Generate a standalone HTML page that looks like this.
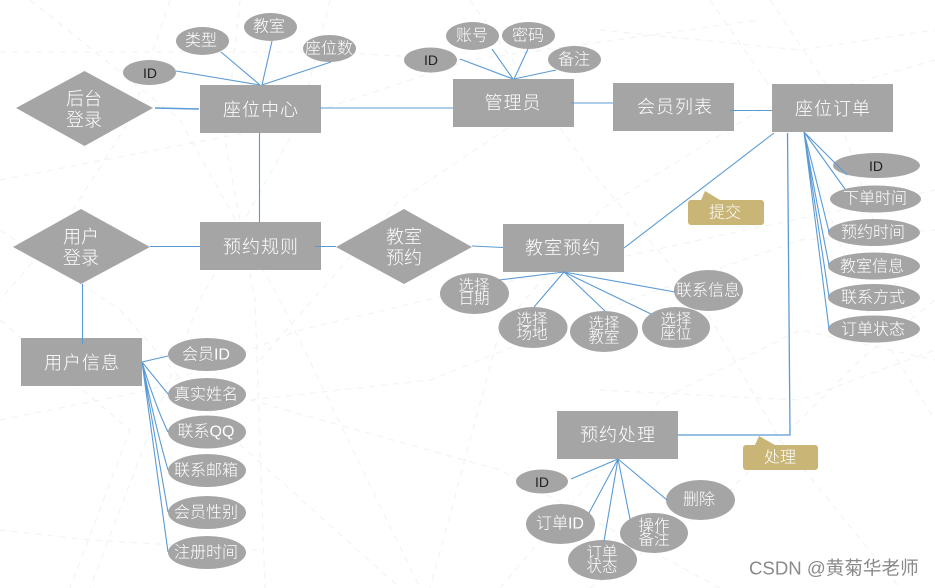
<!DOCTYPE html>
<html lang="zh">
<head>
<meta charset="utf-8">
<title>系统功能图</title>
<style>
html,body{margin:0;padding:0;background:#fff;width:935px;height:588px;overflow:hidden}
svg{display:block}
text{font-family:"Liberation Sans","Noto Sans CJK SC",sans-serif;fill:#fff;text-anchor:middle;dominant-baseline:central;font-weight:300}
.r{font-size:18px;letter-spacing:1px}
.d{font-size:18px}
.e{font-size:16px}
.t{font-size:15.5px}
.i{font-size:14px;fill:#222}
.l{stroke:#5b9bd5;stroke-width:1.1;fill:none}
.b{stroke:#f3f3f3;stroke-width:1.2;stroke-dasharray:6 6;fill:none}
.s{fill:#a5a5a5}
.g{fill:#c9b677}
</style>
</head>
<body>
<svg width="935" height="588" viewBox="0 0 935 588" xmlns="http://www.w3.org/2000/svg">
<rect width="935" height="588" fill="#fff"/>
<!-- faint dashed background -->
<g class="b">
<path d="M0 52H330L470 60"/>
<path d="M30 0L180 120L280 300L420 588"/>
<path d="M0 180L260 130L470 60L760 20"/>
<path d="M0 230L120 310L235 440L400 588"/>
<path d="M170 0L130 120L60 230L0 300"/>
<path d="M0 420L150 390L300 330L470 290L700 240L935 190"/>
<path d="M240 0L225 140L255 300L265 588"/>
<path d="M330 0L300 120L200 300L90 588"/>
<path d="M0 530L90 540L260 550"/>
<path d="M250 400L500 470L720 588"/>
<path d="M250 400L430 380L630 300L800 240L935 230"/>
<path d="M470 0L590 170L700 300L780 440L900 588"/>
<path d="M710 0L800 130L860 300L935 420"/>
<path d="M770 0L830 90L900 300"/>
<path d="M600 30L800 50L935 30"/>
<path d="M935 60L760 110L600 210L500 330L430 588"/>
<path d="M600 390L800 400L935 350"/>
<path d="M500 588L660 400L800 330L935 360"/>
<path d="M260 360L400 200L520 120"/>
<path d="M590 588L720 500L860 360L935 300"/>
<path d="M0 320L130 430L70 588"/>
</g>

<!-- rectangles -->
<g class="s">
<rect x="200" y="85" width="121" height="48"/>
<rect x="453" y="79" width="121" height="48"/>
<rect x="613" y="83" width="121" height="48"/>
<rect x="772" y="84" width="121" height="48"/>
<rect x="200" y="222" width="121" height="48"/>
<rect x="503" y="224" width="121" height="48"/>
<rect x="21" y="338" width="121" height="48"/>
<rect x="557" y="411" width="121" height="48"/>
<!-- diamonds -->
<polygon points="16,108 84.5,71 153,108 84.5,146"/>
<polygon points="13,247 81,209 150,247 81,284"/>
<polygon points="336,247 404,209 472,247 404,284"/>
<!-- ellipses -->
<ellipse cx="149.5" cy="72.5" rx="26.5" ry="12.5"/>
<ellipse cx="202.5" cy="41" rx="26.5" ry="14"/>
<ellipse cx="270.5" cy="27" rx="26.5" ry="14"/>
<ellipse cx="329.5" cy="48.5" rx="26.5" ry="13.5"/>
<ellipse cx="430.5" cy="60" rx="26.5" ry="12.5"/>
<ellipse cx="472.5" cy="36" rx="26.5" ry="14"/>
<ellipse cx="528.5" cy="35.5" rx="26.5" ry="13.5"/>
<ellipse cx="574.5" cy="59.5" rx="26.5" ry="13.5"/>
<ellipse cx="876.5" cy="165.5" rx="43.5" ry="12.5"/>
<ellipse cx="875.5" cy="199" rx="45.5" ry="13.5"/>
<ellipse cx="874" cy="232.5" rx="46" ry="13.5"/>
<ellipse cx="874" cy="266" rx="46" ry="13.5"/>
<ellipse cx="874" cy="297.5" rx="46" ry="13.5"/>
<ellipse cx="874" cy="329" rx="46" ry="13.5"/>
<ellipse cx="474.5" cy="293.5" rx="34.5" ry="20.5"/>
<ellipse cx="533" cy="327.5" rx="34.5" ry="20.5"/>
<ellipse cx="604" cy="331.5" rx="34" ry="20.5"/>
<ellipse cx="676" cy="327.5" rx="34" ry="20.5"/>
<ellipse cx="708.5" cy="290.5" rx="34.5" ry="20.5"/>
<ellipse cx="207" cy="354.5" rx="39" ry="16.5"/>
<ellipse cx="207" cy="394.5" rx="39" ry="16.5"/>
<ellipse cx="207" cy="432" rx="39" ry="16.5"/>
<ellipse cx="207" cy="470.5" rx="39" ry="16.5"/>
<ellipse cx="207" cy="512.5" rx="39" ry="16.5"/>
<ellipse cx="207" cy="552.5" rx="39" ry="16.5"/>
<ellipse cx="542" cy="481.5" rx="26" ry="12"/>
<ellipse cx="560.5" cy="524" rx="34.5" ry="20"/>
<ellipse cx="602.5" cy="560" rx="34.5" ry="20"/>
<ellipse cx="654" cy="533" rx="34" ry="20"/>
<ellipse cx="700.5" cy="500" rx="34.5" ry="20"/>
</g>

<!-- connectors, drawn over the shapes -->
<g class="l">
<path d="M176 71L260 85M221 52L260 85M272 41L262 85M331 62L262 85"/>
<path d="M155 108L199 109" stroke-width="1.4"/>
<path d="M320 108H453"/>
<path d="M259.5 133V222"/>
<path d="M150 246.5H200"/>
<path d="M315 246.5H336"/>
<path d="M82.5 284V344"/>
<path d="M472 246L503 247.5"/>
<path d="M460 59L513 79M492 49L513 79M528 49L514 79M556 70L514 79"/>
<path d="M571 103H613"/>
<path d="M730 110.5H772"/>
<path d="M624 248L774 133"/>
<path d="M787.5 133L790 435H678" stroke-width="1.3"/>
<path d="M804 132L847 175M804 132L845 189"/>
<path d="M804 132Q820 195 829 232M804 132Q816 200 829 265M804 132L829 297M804 132L829 329"/>
<path d="M564 272L499 280M564 272L534 307M564 272L605 311M564 272L651 314M564 272L675 292"/>
<path d="M142 362L168 356M142 362L168 394M142 362Q155 405 168 432M142 362Q155 425 168 470M142 362L168 512M142 362L168 552"/>
<path d="M618 459L571 479M618 459L589 513M618 459L604 541M618 459L630 519M618 459L667 500"/>
</g>

<!-- callouts -->
<g class="g">
<path d="M691 200H701L705 191L720 200H761a3 3 0 0 1 3 3V222a3 3 0 0 1-3 3H691a3 3 0 0 1-3-3V203a3 3 0 0 1 3-3Z"/>
<path d="M746 445H755L759 436L775 445H815a3 3 0 0 1 3 3V467a3 3 0 0 1-3 3H746a3 3 0 0 1-3-3V448a3 3 0 0 1 3-3Z"/>
</g>

<g transform="translate(0,1)">
<!-- rectangle labels -->
<text class="r" x="261" y="109">座位中心</text>
<text class="r" x="513" y="102">管理员</text>
<text class="r" x="675" y="106">会员列表</text>
<text class="r" x="833" y="108">座位订单</text>
<text class="r" x="261" y="246">预约规则</text>
<text class="r" x="563" y="247">教室预约</text>
<text class="r" x="82" y="362">用户信息</text>
<text class="r" x="618" y="434">预约处理</text>

<!-- diamond labels -->
<text class="d" x="84" y="98">后台</text>
<text class="d" x="84" y="119">登录</text>
<text class="d" x="81" y="236">用户</text>
<text class="d" x="81" y="257">登录</text>
<text class="d" x="404" y="236">教室</text>
<text class="d" x="404" y="257">预约</text>

<!-- ellipse labels -->
<text class="i" x="150" y="72">ID</text>
<text class="e" x="201" y="40">类型</text>
<text class="e" x="269" y="26">教室</text>
<text class="e" x="329" y="48">座位数</text>
<text class="i" x="431" y="59">ID</text>
<text class="e" x="472" y="35">账号</text>
<text class="e" x="528" y="35">密码</text>
<text class="e" x="574" y="59">备注</text>
<text class="i" x="876" y="165">ID</text>
<text class="e" x="875" y="198">下单时间</text>
<text class="e" x="873" y="232">预约时间</text>
<text class="e" x="872" y="266">教室信息</text>
<text class="e" x="873" y="297">联系方式</text>
<text class="e" x="873" y="329">订单状态</text>
<text class="t" x="474" y="285">选择</text>
<text class="t" x="474" y="298">日期</text>
<text class="t" x="532" y="319">选择</text>
<text class="t" x="532" y="333">场地</text>
<text class="t" x="604" y="323">选择</text>
<text class="t" x="604" y="337">教室</text>
<text class="t" x="676" y="319">选择</text>
<text class="t" x="676" y="333">座位</text>
<text class="e" x="708" y="290">联系信息</text>
<text class="e" x="206" y="354">会员ID</text>
<text class="e" x="206" y="394">真实姓名</text>
<text class="e" x="206" y="431">联系QQ</text>
<text class="e" x="206" y="470">联系邮箱</text>
<text class="e" x="206" y="512">会员性别</text>
<text class="e" x="206" y="552">注册时间</text>
<text class="i" x="542" y="481">ID</text>
<text class="e" x="560" y="523">订单ID</text>
<text class="t" x="602" y="552">订单</text>
<text class="t" x="602" y="566">状态</text>
<text class="t" x="654" y="525">操作</text>
<text class="t" x="654" y="539">备注</text>
<text class="e" x="699" y="499">删除</text>

<!-- callout labels -->
<text class="e" x="725" y="212">提交</text>
<text class="e" x="780" y="457">处理</text>

<!-- watermark -->
<text x="749" y="567" style="text-anchor:start;font-size:18.6px;font-weight:400;fill:#8a8a8a">CSDN @黄菊华老师</text>
</g>
</svg>
</body>
</html>
